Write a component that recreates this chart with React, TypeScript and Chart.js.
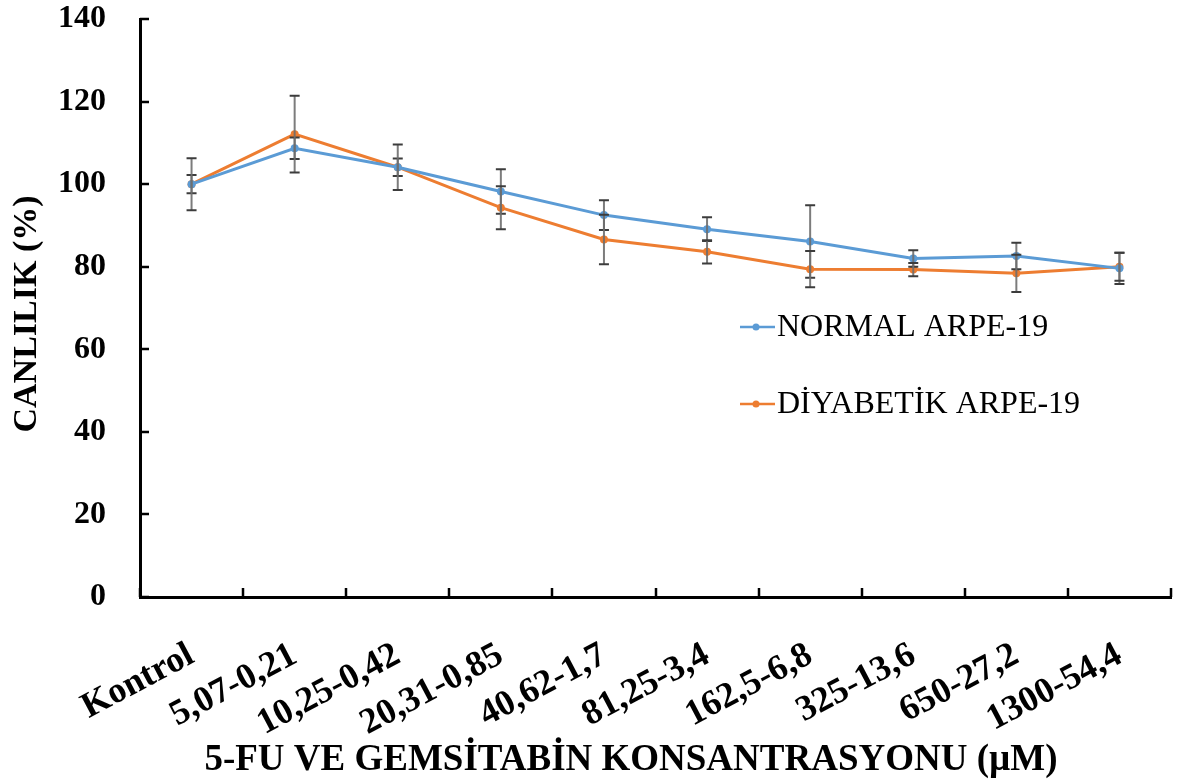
import React, { useEffect, useRef } from "react";
import { Chart, registerables } from "chart.js";

Chart.register(...registerables);

const categories = [
  "Kontrol",
  "5,07-0,21",
  "10,25-0,42",
  "20,31-0,85",
  "40,62-1,7",
  "81,25-3,4",
  "162,5-6,8",
  "325-13,6",
  "650-27,2",
  "1300-54,4",
];
const normalValues = [100, 108.7, 104.1, 98.2, 92.5, 89.1, 86.1, 82.0, 82.6, 79.6];
const normalErrors = [2.2, 2.6, 2.1, 5.4, 3.6, 2.9, 8.8, 2.0, 3.2, 3.8];
const diabeticValues = [100, 112.1, 104.1, 94.3, 86.6, 83.6, 79.4, 79.3, 78.4, 80.0];
const diabeticErrors = [6.3, 9.3, 5.5, 5.2, 6.0, 2.8, 4.4, 1.6, 4.5, 3.4];
const seriesLabels = ["NORMAL ARPE-19", "DİYABETİK ARPE-19"];
const seriesColors = ["#5B9BD5", "#ED7D31"];
const yAxisTitle = "CANLILIK (%)";
const xAxisTitle = "5-FU VE GEMSİTABİN KONSANTRASYONU (µM)";
const yMin = 0;
const yMax = 140;
const yStep = 20;

const FONT = '"Liberation Serif", "Times New Roman", serif';

const decorPlugin = {
  id: "decor",
  afterDatasetsDraw(chart: any) {
    const ctx = chart.ctx;
    const ys = chart.scales.y;
    chart.data.datasets.forEach((ds: any, di: number) => {
      const meta = chart.getDatasetMeta(di);
      meta.data.forEach((pt: any, i: number) => {
        const v = ds.data[i];
        const e = ds.errors[i];
        const yTop = ys.getPixelForValue(v + e);
        const yBot = ys.getPixelForValue(v - e);
        ctx.save();
        ctx.strokeStyle = "rgba(110,110,110,0.9)";
        ctx.lineWidth = 2;
        ctx.beginPath();
        ctx.moveTo(pt.x, yTop);
        ctx.lineTo(pt.x, yBot);
        ctx.stroke();
        ctx.strokeStyle = "#3c3c3c";
        ctx.lineWidth = 2;
        ctx.beginPath();
        ctx.moveTo(pt.x - 5, yTop);
        ctx.lineTo(pt.x + 5, yTop);
        ctx.moveTo(pt.x - 5, yBot);
        ctx.lineTo(pt.x + 5, yBot);
        ctx.stroke();
        ctx.restore();
      });
    });
  },
  afterDraw(chart: any) {
    const ctx = chart.ctx;
    const xs = chart.scales.x;
    const ys = chart.scales.y;
    const area = chart.chartArea;
    ctx.save();
    // inward tick marks
    ctx.strokeStyle = "#000";
    ctx.lineWidth = 2.5;
    ctx.beginPath();
    for (let k = 0; k <= categories.length; k++) {
      const px = Math.round(xs.getPixelForValue(k - 0.5));
      ctx.moveTo(px, area.bottom);
      ctx.lineTo(px, area.bottom - 9);
    }
    for (let v = yMin; v <= yMax; v += yStep) {
      const py = Math.round(ys.getPixelForValue(v));
      ctx.moveTo(area.left, py);
      ctx.lineTo(area.left + 9, py);
    }
    ctx.stroke();

    // legend
    const legendY = [327, 404];
    chart.data.datasets.forEach((ds: any, i: number) => {
      const ly = legendY[i];
      ctx.strokeStyle = ds.borderColor;
      ctx.lineWidth = 2.5;
      ctx.beginPath();
      ctx.moveTo(740, ly);
      ctx.lineTo(775, ly);
      ctx.stroke();
      ctx.fillStyle = ds.borderColor;
      ctx.beginPath();
      ctx.arc(756, ly, 3.5, 0, Math.PI * 2);
      ctx.fill();
      ctx.fillStyle = "#000";
      ctx.font = `normal 32px ${FONT}`;
      ctx.textAlign = "left";
      ctx.textBaseline = "middle";
      ctx.fillText(ds.label, 777, ly + 1);
    });

    // axis titles
    ctx.fillStyle = "#000";
    ctx.font = `bold 37px ${FONT}`;
    ctx.textAlign = "center";
    ctx.textBaseline = "middle";
    ctx.fillText(xAxisTitle, 631, 760);

    ctx.save();
    ctx.translate(27, 314);
    ctx.rotate(-Math.PI / 2);
    ctx.font = `bold 34px ${FONT}`;
    ctx.fillText(yAxisTitle, 0, 0);
    ctx.restore();
    ctx.restore();
  },
};

export default function App() {
  const canvasRef = useRef<HTMLCanvasElement | null>(null);

  useEffect(() => {
    const canvas = canvasRef.current;
    if (!canvas) return;
    const chart = new Chart(canvas, {
      type: "line",
      data: {
        labels: categories,
        datasets: [
          {
            label: seriesLabels[0],
            data: normalValues,
            errors: normalErrors,
            borderColor: seriesColors[0],
            backgroundColor: seriesColors[0],
            borderWidth: 3,
            pointRadius: 4,
            pointBorderWidth: 0,
            tension: 0,
          } as any,
          {
            label: seriesLabels[1],
            data: diabeticValues,
            errors: diabeticErrors,
            borderColor: seriesColors[1],
            backgroundColor: seriesColors[1],
            borderWidth: 3,
            pointRadius: 4,
            pointBorderWidth: 0,
            tension: 0,
          } as any,
        ],
      },
      options: {
        responsive: false,
        maintainAspectRatio: false,
        animation: false,
        layout: { padding: { top: 19, right: 13, left: 0, bottom: 0 } },
        plugins: {
          legend: { display: false },
          tooltip: { enabled: false },
          title: { display: false },
        },
        scales: {
          x: {
            type: "category",
            offset: true,
            grid: { display: false, drawTicks: false, offset: true },
            border: { display: true, color: "#000", width: 3 },
            ticks: {
              color: "#000",
              font: { family: FONT, size: 36, weight: "bold" },
              minRotation: 28,
              maxRotation: 28,
              padding: 37,
              autoSkip: false,
            },
            afterFit: (scale: any) => {
              scale.height = 187;
            },
          },
          y: {
            min: yMin,
            max: yMax,
            grid: { display: false, drawTicks: false },
            border: { display: true, color: "#000", width: 3 },
            ticks: {
              stepSize: yStep,
              color: "#000",
              font: { family: FONT, size: 32, weight: "bold" },
              padding: 34,
            },
            afterFit: (scale: any) => {
              scale.width = 140;
              scale.paddingTop = 0;
              scale.paddingBottom = 0;
            },
          },
        },
      },
      plugins: [decorPlugin],
    });
    return () => chart.destroy();
  }, []);

  return (
    <div style={{ position: "absolute", left: 0, top: 0, width: 1184, height: 784, background: "#fff" }}>
      <canvas ref={canvasRef} width={1184} height={784} />
    </div>
  );
}
